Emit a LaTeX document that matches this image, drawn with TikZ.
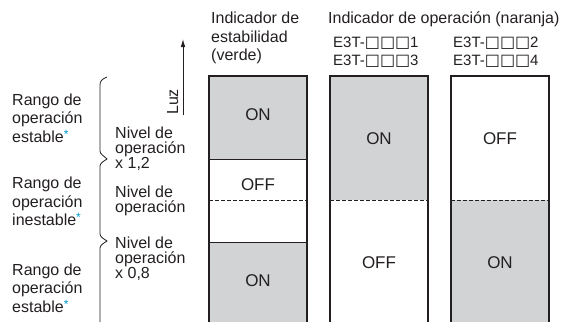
\documentclass[tikz,border=0pt]{standalone}
\usepackage{fontspec}
\setmainfont{Liberation Sans}
\newfontfamily\dejavu{DejaVu Sans}
\usetikzlibrary{arrows.meta}
\definecolor{barfill}{RGB}{209,211,212}
\definecolor{ink}{RGB}{35,31,32}
\definecolor{astblue}{RGB}{0,150,214}
\newcommand{\sqb}{{\dejavu\fontsize{16}{18}\selectfont □}}
\newcommand{\bluestar}{\raisebox{0.45ex}{\color{astblue}\fontsize{12}{12}\selectfont *}}
\tikzset{
  lbl/.style={anchor=base west, inner sep=0pt, align=left, text=ink,
    font=\fontsize{16}{18.5}\selectfont},
  lvl/.style={anchor=base west, inner sep=0pt, align=left, text=ink,
    font=\fontsize{16}{15}\selectfont},
  hdr/.style={anchor=base west, inner sep=0pt, align=left, text=ink,
    font=\fontsize{16}{18.5}\selectfont},
  model/.style={anchor=base west, inner sep=0pt, align=left, text=ink,
    font=\fontsize{15}{18}\selectfont},
  state/.style={anchor=base, inner sep=0pt, text=ink,
    font=\fontsize{17}{17}\selectfont},
  barline/.style={draw=ink, line width=1.1pt},
  divline/.style={draw=ink, line width=0.9pt},
  dashline/.style={draw=ink, line width=0.9pt, dash pattern=on 3.5pt off 2.5pt},
  brace/.style={draw=ink, line width=0.8pt},
}
\begin{document}
\begin{tikzpicture}[x=1pt, y=-1pt]
\useasboundingbox (0,0) rectangle (578,322);

% bar fills
\fill[barfill] (209,76) rectangle (307,159);
\fill[barfill] (209,242) rectangle (307,322);
\fill[barfill] (330,76) rectangle (428,200);
\fill[barfill] (451,200) rectangle (549,322);

% bar outlines
\draw[barline] (209,322) -- (209,76) -- (307,76) -- (307,322);
\draw[barline] (330,322) -- (330,76) -- (428,76) -- (428,322);
\draw[barline] (451,322) -- (451,76) -- (549,76) -- (549,322);
\draw[divline] (209,159) -- (307,159);
\draw[divline] (209,242) -- (307,242);
\draw[dashline] (209,200) -- (307,200);
\draw[dashline] (330,200) -- (428,200);
\draw[dashline] (451,200) -- (549,200);

% state labels
\node[state] (b1on) at (258,120) {ON};
\node[state] (b1off) at (258,190) {OFF};
\node[state] (b1on2) at (258,286) {ON};
\node[state] (b2on) at (379,144) {ON};
\node[state] (b2off) at (379,268) {OFF};
\node[state] (b3off) at (500,144) {OFF};
\node[state] (b3on) at (500,268) {ON};

% headers (base anchor = baseline of the last line)
\node[hdr] (h1) at (211,60.5) {Indicador de\\estabilidad\\(verde)};
\node[hdr] (h2) at (328,23.5) {Indicador de operación (naranja)};
\node[model] (m1) at (333,65.5) {E3T-\sqb\sqb\sqb1\\E3T-\sqb\sqb\sqb3};
\node[model] (m2) at (453,65.5) {E3T-\sqb\sqb\sqb2\\E3T-\sqb\sqb\sqb4};

% light axis
\coordinate (ax0) at (183,115);
\coordinate (ax1) at (183,39);
\draw[draw=ink, line width=0.8pt, -{Latex[length=8pt,width=4.5pt]}] (ax0) -- (ax1);
\node[rotate=90, anchor=base west, inner sep=0pt, text=ink,
  font=\fontsize{16}{16}\selectfont] (luz) at (178,115) {Luz};

% braces
\draw[brace] (107,77) .. controls (102,79) and (100,81) .. (100,85)
  -- (100,151) .. controls (100,154) and (104,156) .. (107,159)
  .. controls (104,161) and (100,163) .. (100,166)
  -- (100,234) .. controls (100,237) and (104,239) .. (107,241)
  .. controls (104,243) and (100,245) .. (100,248)
  -- (100,322);

% range labels
\node[lbl] (r1) at (12,142) {Rango de\\operación\\estable\bluestar};
\node[lbl] (r2) at (12,225.5) {Rango de\\operación\\inestable\bluestar};
\node[lbl] (r3) at (12,312) {Rango de\\operación\\estable\bluestar};

% level labels
\node[lvl] (n1) at (115,168) {Nivel de\\operación\\x 1,2};
\node[lvl] (n2) at (115,212) {Nivel de\\operación};
\node[lvl] (n3) at (115,278) {Nivel de\\operación\\x 0,8};
\end{tikzpicture}
\end{document}
